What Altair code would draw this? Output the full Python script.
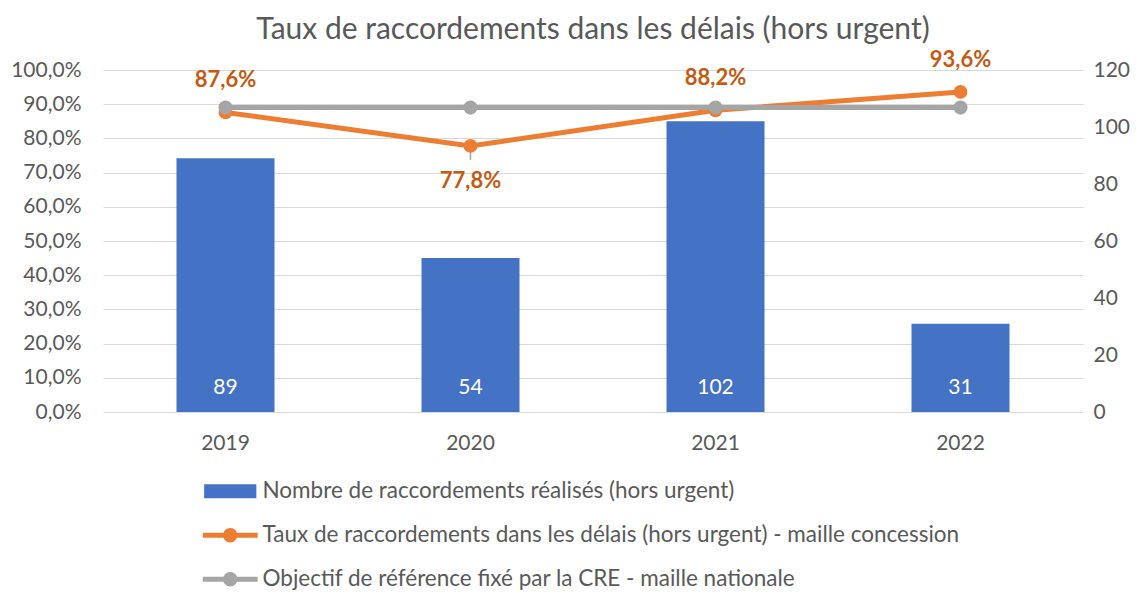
import altair as alt
import pandas as pd

years = ["2019", "2020", "2021", "2022"]
nb_raccordements = [89, 54, 102, 31]
taux = [0.876, 0.778, 0.882, 0.936]
taux_labels = ["87,6%", "77,8%", "88,2%", "93,6%"]
objectif = [0.89, 0.89, 0.89, 0.89]
err_years = ["2020"]
err_hi = [0.775]
err_lo = [0.737]

s_bar = "Nombre de raccordements réalisés (hors urgent)"
s_taux = "Taux de raccordements dans les délais (hors urgent) - maille concession"
s_obj = "Objectif de référence fixé par la CRE - maille nationale"

BLUE = "#4472C4"
ORANGE = "#ED7D31"
GRAY = "#A5A5A5"
LABEL_ORANGE = "#C55A11"
TXT = "#595959"
FONT = "Lato"
AX = 21

bars_df = pd.DataFrame({"year": years, "n": nb_raccordements})
taux_df = pd.DataFrame({"year": years, "value": taux, "label": taux_labels, "series": s_taux})
obj_df = pd.DataFrame({"year": years, "value": objectif, "series": s_obj})
err_df = pd.DataFrame({"year": err_years, "hi": err_hi, "lo": err_lo})
legend_df = pd.concat([taux_df[["year", "value", "series"]], obj_df], ignore_index=True)

x_enc = alt.X("year:N", title=None, sort=years,
              scale=alt.Scale(paddingInner=0.6, paddingOuter=0.3),
              axis=alt.Axis(labelFontSize=AX, labelColor=TXT, labelFont=FONT,
                            labelPadding=20, ticks=False, domain=False, labelAngle=0))

y_right = alt.Y("n:Q", title=None,
                scale=alt.Scale(domain=[0, 120], nice=False),
                axis=alt.Axis(orient="right", values=list(range(0, 121, 20)), grid=False,
                              labelFontSize=AX, labelColor=TXT, labelFont=FONT, labelOverlap=False,
                              labelPadding=10, ticks=False, domain=False))

bars = alt.Chart(bars_df).mark_bar(color=BLUE).encode(x=x_enc, y=y_right)
bar_text = alt.Chart(bars_df).mark_text(color="white", fontSize=AX, font=FONT, dy=-24).encode(
    x=alt.X("year:N", sort=years), y=alt.datum(0), text=alt.Text("n:Q"))
bar_layer = alt.layer(bars, bar_text)

left_axis = alt.Axis(orient="left", values=[i / 10 for i in range(11)],
                     labelExpr="replace(format(datum.value, '.1%'), '.', ',')",
                     grid=True, gridColor="#D9D9D9", gridWidth=1, labelOverlap=False,
                     labelFontSize=AX, labelColor=TXT, labelFont=FONT,
                     labelPadding=22, ticks=False, domain=False)
y_left = alt.Y("value:Q", title=None, scale=alt.Scale(domain=[0, 1], nice=False), axis=left_axis)

taux_line = alt.Chart(taux_df).mark_line(color=ORANGE, strokeWidth=5).encode(
    x=alt.X("year:N", sort=years), y=y_left)
err = alt.Chart(err_df).mark_rule(color=GRAY, strokeWidth=1.5).encode(
    x=alt.X("year:N", sort=years), y=alt.Y("lo:Q", title=None, axis=left_axis), y2="hi:Q")
taux_pts = alt.Chart(taux_df).mark_point(color=ORANGE, filled=True, size=190, opacity=1).encode(
    x=alt.X("year:N", sort=years), y=y_left)
obj_line = alt.Chart(obj_df).mark_line(color=GRAY, strokeWidth=5).encode(
    x=alt.X("year:N", sort=years), y=y_left)
obj_pts = alt.Chart(obj_df).mark_point(color=GRAY, filled=True, size=200, opacity=1).encode(
    x=alt.X("year:N", sort=years), y=y_left)
lab_above = alt.Chart(taux_df).transform_filter("datum.year != '2020'").mark_text(
    color=LABEL_ORANGE, fontSize=22, fontWeight="bold", font=FONT, dy=-32).encode(
    x=alt.X("year:N", sort=years), y=y_left, text="label:N")
lab_below = alt.Chart(taux_df).transform_filter("datum.year == '2020'").mark_text(
    color=LABEL_ORANGE, fontSize=22, fontWeight="bold", font=FONT, dy=35).encode(
    x=alt.X("year:N", sort=years), y=y_left, text="label:N")

series_domain = [s_bar, s_taux, s_obj]
bar_path = "M-2.9,-0.78H2.9V0.78H-2.9Z"
line_path = "M-3.05,-0.28H3.05V0.28H-3.05Z M0.8,0A0.8,0.8,0,1,1,-0.8,0A0.8,0.8,0,1,1,0.8,0Z"
leg = alt.Legend(title=None, orient="none", legendX=116, legendY=410, direction="vertical",
                 symbolSize=324, symbolStrokeWidth=0, symbolOpacity=1, labelFontSize=22.5, labelColor=TXT,
                 labelFont=FONT, labelOffset=21, rowPadding=21, labelLimit=900)
legend_layer = alt.Chart(legend_df).transform_filter("false").mark_point(filled=True, opacity=1).encode(
    x=alt.X("year:N", sort=years), y=y_left,
    color=alt.Color("series:N", scale=alt.Scale(domain=series_domain, range=[BLUE, ORANGE, GRAY]), legend=leg),
    shape=alt.Shape("series:N", scale=alt.Scale(domain=series_domain, range=[bar_path, line_path, line_path]), legend=leg))

line_layer = alt.layer(taux_line, err, obj_line, taux_pts, obj_pts, lab_above, lab_below, legend_layer)

chart = alt.layer(bar_layer, line_layer).resolve_scale(y="independent").properties(
    width=980, height=342,
    autosize=alt.AutoSizeParams(type="none"),
    padding={"left": 95, "top": 62, "right": 53, "bottom": 179},
    title=alt.TitleParams("Taux de raccordements dans les délais (hors urgent)", fontSize=30,
                          font=FONT, color=TXT, fontWeight="normal", anchor="middle", offset=4),
).configure(background="white", view=alt.ViewConfig(stroke="transparent"))

chart.save("out.html", embed_options={"renderer": "svg", "actions": False})
